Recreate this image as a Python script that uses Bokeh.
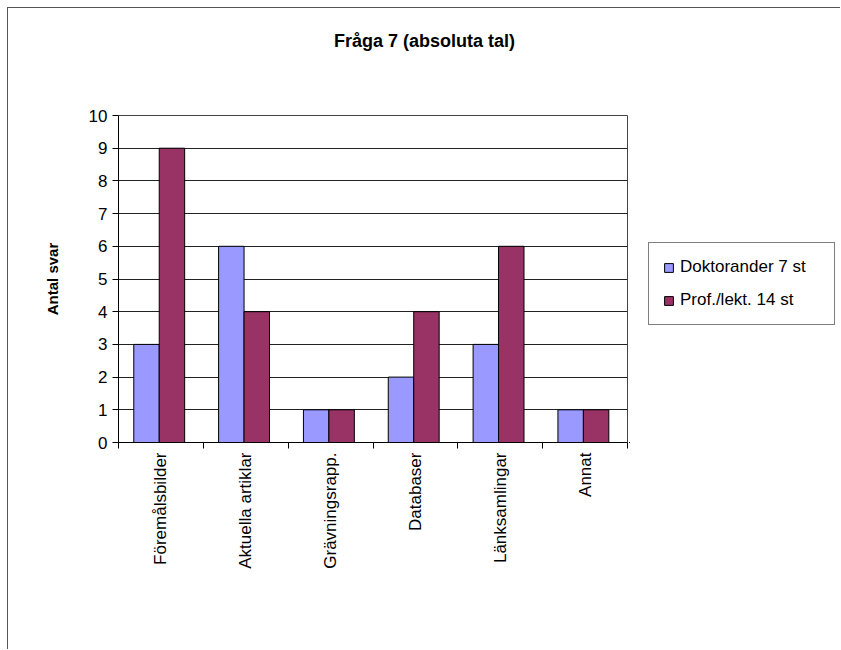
from math import pi
from bokeh.plotting import figure
from bokeh.layouts import column, row
from bokeh.models import (ColumnDataSource, Range1d, LinearAxis, FixedTicker, Legend, LegendItem, Label)
from bokeh.embed import file_html
from bokeh.resources import INLINE

categories = ["Föremålsbilder", "Aktuella artiklar", "Grävningsrapp.", "Databaser", "Länksamlingar", "Annat"]
doktorander = [3, 6, 1, 2, 3, 1]
prof_lekt = [9, 4, 1, 4, 6, 1]
series_names = ["Doktorander 7 st", "Prof./lekt. 14 st"]
series_colors = ["#9999FF", "#993366"]
y_ticks = [0, 1, 2, 3, 4, 5, 6, 7, 8, 9, 10]
title_text = "Fråga 7 (absoluta tal)"
y_title = "Antal svar"

FONT = "Liberation Sans"
n = len(categories)
centers = [i + 0.5 for i in range(n)]

# ---- title strip ----
tf = figure(width=832, height=64, output_backend="svg", toolbar_location=None,
            x_range=Range1d(0, 1), y_range=Range1d(0, 1),
            x_axis_location=None, y_axis_location=None,
            min_border=0, outline_line_color=None)
tf.xgrid.visible = False
tf.ygrid.visible = False
tf.add_layout(Label(x=416, y=32, x_units="screen", y_units="screen", text=title_text,
                    text_align="center", text_baseline="middle", text_font=FONT,
                    text_font_size="18px", text_font_style="bold", text_color="black"))

# ---- main chart ----
src = ColumnDataSource(data=dict(
    x1=[c - 0.17 for c in centers], x2=[c + 0.13 for c in centers],
    dok=doktorander, prof=prof_lekt))

p = figure(width=621, height=577, output_backend="svg", toolbar_location=None,
           x_range=Range1d(0, n), y_range=Range1d(0, 10),
           x_axis_location=None,
           min_border_left=110, min_border_top=43, min_border_right=2, min_border_bottom=207)

cat_axis = LinearAxis(ticker=FixedTicker(ticks=centers, minor_ticks=list(range(n + 1))),
                      major_label_overrides={c: lab for c, lab in zip(centers, categories)},
                      axis_line_color="black", major_tick_line_color=None,
                      minor_tick_line_color="black", minor_tick_out=6, minor_tick_in=0,
                      major_tick_out=6, major_tick_in=0,
                      major_label_orientation=pi / 2, major_label_standoff=4,
                      major_label_text_font=FONT, major_label_text_font_size="17px",
                      major_label_text_color="black")
p.add_layout(cat_axis, "below")

yax = p.yaxis[0]
yax.ticker = FixedTicker(ticks=y_ticks)
yax.major_label_text_font = FONT
yax.major_label_text_font_size = "17px"
yax.major_label_text_color = "black"
yax.major_tick_out = 6
yax.major_tick_in = 0
yax.minor_tick_line_color = None
yax.axis_line_color = "black"
yax.major_tick_line_color = "black"
yax.axis_label = y_title
yax.axis_label_text_font = FONT
yax.axis_label_text_font_size = "15px"
yax.axis_label_text_font_style = "bold"
yax.axis_label_text_color = "black"
yax.axis_label_standoff = 25

p.xgrid.grid_line_color = None
p.ygrid.grid_line_color = "#222222"
p.ygrid.ticker = FixedTicker(ticks=y_ticks)
p.outline_line_color = "#444444"

p.vbar(x="x1", top="dok", width=0.3, source=src,
       fill_color=series_colors[0], line_color="black", line_width=1)
p.vbar(x="x2", top="prof", width=0.3, source=src,
       fill_color=series_colors[1], line_color="black", line_width=1)

# ---- legend strip (proxy renderers lie outside its visible range) ----
lf = figure(width=211, height=577, output_backend="svg", toolbar_location=None,
            x_range=Range1d(100, 101), y_range=Range1d(100, 101),
            x_axis_location=None, y_axis_location=None,
            min_border=0, outline_line_color=None)
lf.xgrid.visible = False
lf.ygrid.visible = False
proxies = [lf.vbar(x=xcol, top=tcol, width=0.3, source=src, fill_color=c, line_color="black")
           for xcol, tcol, c in zip(["x1", "x2"], ["dok", "prof"], series_colors)]

legend = Legend(items=[LegendItem(label=name, renderers=[r], index=0) for name, r in zip(series_names, proxies)],
                location=(19, 117), orientation="vertical",
                label_text_font=FONT, label_text_font_size="17px", label_text_color="black",
                glyph_width=11, glyph_height=11, spacing=13, padding=14, margin=0,
                label_width=140,
                border_line_color="black", border_line_width=1, label_standoff=6)
lf.add_layout(legend, "center")

layout = column(tf, row(p, lf))
layout.styles = {"margin-left": "7px", "margin-top": "7px",
                 "border-left": "1px solid #555", "border-top": "1px solid #555"}

open("out.html", "w").write(file_html(layout, INLINE))
